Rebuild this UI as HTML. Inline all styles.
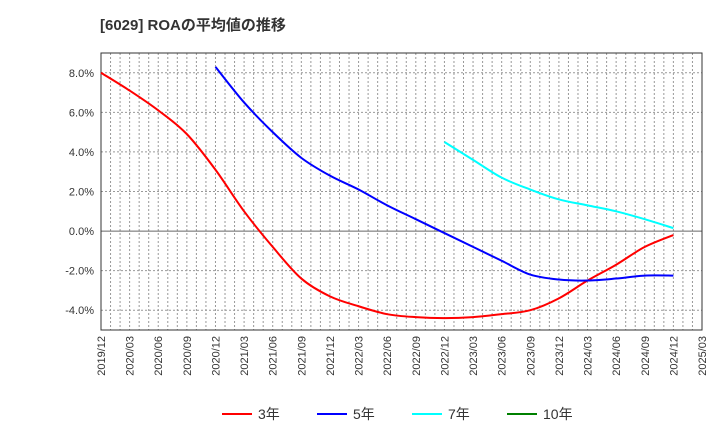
<!DOCTYPE html>
<html><head><meta charset="utf-8"><style>
body{margin:0;background:#fff;font-family:"Liberation Sans","Noto Sans CJK JP",sans-serif}
</style></head><body>
<svg id="chart" width="720" height="440" xmlns="http://www.w3.org/2000/svg">
<text x="100" y="30" font-size="15" font-weight="bold" fill="#333" font-family="Liberation Sans, Noto Sans CJK JP, sans-serif">[6029]  ROAの平均値の推移</text>
<g id="grid"></g><g id="axes"></g><g id="series"></g><g id="legend"></g>
</svg>
<script>
const categories=["2019/12","2020/03","2020/06","2020/09","2020/12","2021/03","2021/06","2021/09","2021/12","2022/03","2022/06","2022/09","2022/12","2023/03","2023/06","2023/09","2023/12","2024/03","2024/06","2024/09","2024/12","2025/03"];
const yTicks=[8,6,4,2,0,-2,-4];
const s3=[8.0,7.1,6.1,4.9,3.1,1.0,-0.8,-2.4,-3.3,-3.8,-4.2,-4.35,-4.4,-4.35,-4.2,-4.0,-3.4,-2.5,-1.7,-0.8,-0.2];
const s5=[null,null,null,null,8.3,6.5,5.0,3.7,2.8,2.1,1.3,0.6,-0.1,-0.8,-1.5,-2.2,-2.45,-2.5,-2.4,-2.25,-2.25];
const s7=[null,null,null,null,null,null,null,null,null,null,null,null,4.5,3.6,2.7,2.1,1.6,1.3,1.0,0.6,0.15];
const s10=[];
const NS="http://www.w3.org/2000/svg";
const L=101,R=702,T=53,B=330,yMin=-5,yMax=9;
const xs=i=>L+(R-L)*i/(categories.length-1);
const ys=v=>B-(v-yMin)/(yMax-yMin)*(B-T);
function mk(tag,attrs,parent){const e=document.createElementNS(NS,tag);for(const k in attrs)e.setAttribute(k,attrs[k]);parent.appendChild(e);return e;}
const grid=document.getElementById('grid'),axes=document.getElementById('axes'),ser=document.getElementById('series'),leg=document.getElementById('legend');
const nMonths=(categories.length-1)*3;
for(let m=1;m<nMonths;m++){const x=L+(R-L)*m/nMonths;
const l=mk('line',{x1:x,x2:x,y1:T,y2:B,stroke:'#999','stroke-dasharray':'2,2','stroke-width':1},grid);

}
for(let v=-4;v<=8;v+=2){const y=ys(v);
const l=mk('line',{x1:L,x2:R,y1:y,y2:y,stroke:v===0?'#666':'#999','stroke-dasharray':v===0?'none':'2,2','stroke-width':1},grid);

}
const fr=mk('rect',{x:L,y:T,width:R-L,height:B-T,fill:'none',stroke:'#333','stroke-width':1},axes);


yTicks.forEach(v=>{const t=mk('text',{x:L-7,y:ys(v)+4,'text-anchor':'end','font-size':11,fill:'#333'},axes);t.textContent=v.toFixed(1)+'%';

});
categories.forEach((c,i)=>{const x=xs(i);const t=mk('text',{x:x+4,y:B+6,'text-anchor':'end','font-size':11,fill:'#333',transform:`rotate(-90 ${x+4} ${B+6})`},axes);t.textContent=c;

});
function path(data){const p=[];data.forEach((v,i)=>{if(v!==null&&v!==undefined)p.push([xs(i),ys(v)]);});if(p.length<2)return '';
let d=`M${p[0][0]},${p[0][1]}`;for(let i=0;i<p.length-1;i++){const p0=p[Math.max(0,i-1)],p1=p[i],p2=p[i+1],p3=p[Math.min(p.length-1,i+2)];
const c1=[p1[0]+(p2[0]-p0[0])/6,p1[1]+(p2[1]-p0[1])/6],c2=[p2[0]-(p3[0]-p1[0])/6,p2[1]-(p3[1]-p1[1])/6];
d+=` C${c1[0]},${c1[1]} ${c2[0]},${c2[1]} ${p2[0]},${p2[1]}`;}return d;}
const series=[[s3,'#ff0000','3年','line-3yr'],[s5,'#0000ff','5年','line-5yr'],[s7,'#00ffff','7年','line-7yr'],[s10,'#008000','10年','line-10yr']];
series.forEach(([d,c,n,name])=>{const pd=path(d);if(pd){const e=mk('path',{d:pd,fill:'none',stroke:c,'stroke-width':2},ser);

}});
const lx=[222,317,412,507];
series.forEach(([d,c,n,name],i)=>{const g=mk('g',{},leg);


mk('line',{x1:lx[i],x2:lx[i]+30,y1:414,y2:414,stroke:c,'stroke-width':2},g);
const t=mk('text',{x:lx[i]+36,y:419,'font-size':14,fill:'#333'},g);t.textContent=n;});
</script>
</body></html>
